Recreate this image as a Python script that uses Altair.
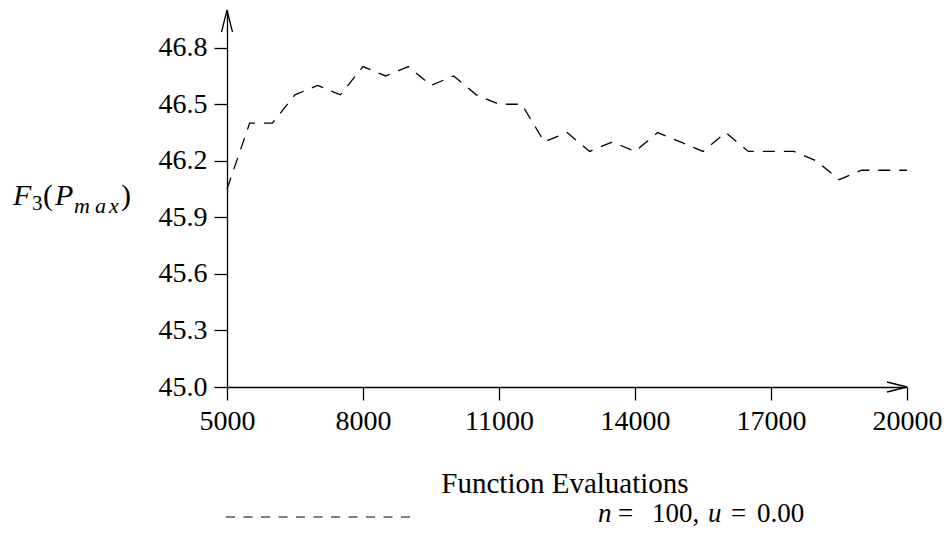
import altair as alt
import pandas as pd

# ---- data ----
evals = [5000, 5500, 6000, 6500, 7000, 7500, 8000, 8500, 9000, 9500,
         10000, 10500, 11000, 11500, 12000, 12500, 13000, 13500, 14000, 14500,
         15000, 15500, 16000, 16500, 17000, 17500, 18000, 18500, 19000, 19500, 20000]
f3_pmax = [46.05, 46.40, 46.40, 46.55, 46.60, 46.55, 46.70, 46.65, 46.70, 46.60,
           46.65, 46.55, 46.50, 46.50, 46.30, 46.35, 46.25, 46.30, 46.25, 46.35,
           46.30, 46.25, 46.35, 46.25, 46.25, 46.25, 46.20, 46.10, 46.15, 46.15, 46.15]
x_ticks = [5000, 8000, 11000, 14000, 17000, 20000]
y_ticks = [45.0, 45.3, 45.6, 45.9, 46.2, 46.5, 46.8]
x_domain = [5000, 20000]
y_domain = [45.0, 47.0]
x_title = "Function Evaluations"
series_label = ["n", "=", "100,", "u", "=", "0.00"]

FONT = "Liberation Serif"
W, H = 680, 377

df = pd.DataFrame({"evals": evals, "f3": f3_pmax})

xs = alt.Scale(domain=x_domain, nice=False, zero=False)
ys = alt.Scale(domain=y_domain, nice=False, zero=False)

base = alt.Chart(df)

line = base.mark_line(color="black", strokeWidth=1.3, strokeDash=[12, 9]).encode(
    x=alt.X("evals:Q", scale=xs,
            axis=alt.Axis(values=x_ticks, format="d", title=None, grid=False,
                          labelFlush=False, labelOverlap=False, labelPadding=7)),
    y=alt.Y("f3:Q", scale=ys,
            axis=alt.Axis(values=y_ticks, format=".1f", title=None, grid=False,
                          labelPadding=7)),
)

arrow_df = pd.DataFrame({"x": [x_domain[0], x_domain[1]],
                         "y": [y_domain[1], y_domain[0]],
                         "k": ["up", "right"]})
up_arrow = alt.Chart(arrow_df).transform_filter(alt.datum.k == "up").mark_point(
    shape="M-0.25,1L0,0L0.25,1", size=1936, filled=False, stroke="black",
    strokeWidth=1.3, opacity=1).encode(x=alt.X("x:Q", scale=xs), y=alt.Y("y:Q", scale=ys))
right_arrow = alt.Chart(arrow_df).transform_filter(alt.datum.k == "right").mark_point(
    shape="M-1,-0.25L0,0L-1,0.25", size=1600, filled=False, stroke="black",
    strokeWidth=1.3, opacity=1).encode(x=alt.X("x:Q", scale=xs), y=alt.Y("y:Q", scale=ys))


def txt(s, x, y, size, italic=False, align="left"):
    return alt.Chart(pd.DataFrame({"t": [s]})).mark_text(
        font=FONT, fontSize=size, fontStyle="italic" if italic else "normal",
        align=align, baseline="alphabetic", color="black"
    ).encode(text="t:N", x=alt.value(x), y=alt.value(y))


# y-axis label  F_3(P_max)
ylab = [
    txt("F", -214, 195, 30, True),
    txt("3", -195, 200, 21),
    txt("(", -184, 195, 30),
    txt("P", -172, 195, 30, True),
    txt("m", -153, 203, 22, True),
    txt("a", -132, 203, 22, True),
    txt("x", -118, 203, 22, True),
    txt(")", -106, 195, 30),
]

title = txt(x_title, 338, 483, 29, align="center")

legend_line = alt.Chart(pd.DataFrame({"a": [0]})).mark_rule(
    color="black", strokeWidth=1.2, strokeDash=[9, 8.5]
).encode(x=alt.value(-1), x2=alt.value(185), y=alt.value(507))

leg_x = [371, 391, 425, 481, 504, 530]
leg_it = [True, False, False, True, False, False]
legend_text = [txt(s, lx, 512, 27, it) for s, lx, it in zip(series_label, leg_x, leg_it)]

chart = alt.layer(line, up_arrow, right_arrow, *ylab, title, legend_line, *legend_text).properties(
    width=W, height=H,
    autosize=alt.AutoSizeParams(type="none"),
    padding={"left": 227, "top": 10, "right": 39, "bottom": 148},
).configure_view(strokeWidth=0).configure_axis(
    domainColor="black", domainWidth=1.3, tickColor="black", tickWidth=1.3,
    tickSize=13, labelFont=FONT, labelFontSize=28, labelColor="black",
)

chart.save("out.html", embed_options={"renderer": "svg", "actions": False})
